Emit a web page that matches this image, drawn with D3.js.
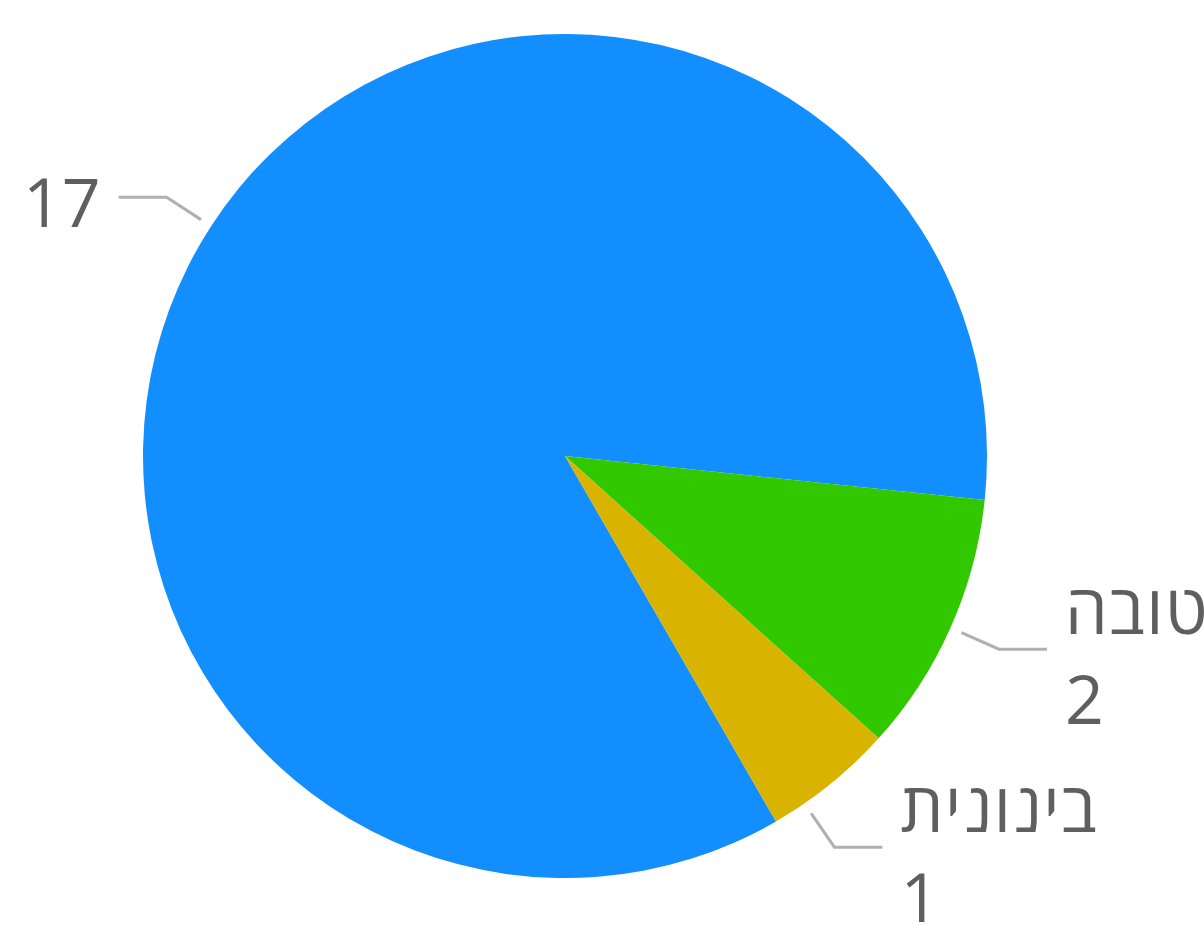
<!DOCTYPE html>
<html>
<head>
<meta charset="utf-8">
<script src="https://cdn.jsdelivr.net/npm/d3@7"></script>
<style>
  html, body { margin: 0; padding: 0; background: #fff; overflow: hidden; }
</style>
</head>
<body>
<div id="chart"></div>
<script>
// Data
var categories = ['', 'טובה', 'בינונית'];
var values     = [17, 2, 1];
var colors     = ['#138eff', '#31c800', '#d8b300'];

// The SVG Element
var chart_width  = 1204;
var chart_height = 925;
var cx = 565, cy = 456;
var radius = 422;

var svg = d3.select('#chart')
    .append('svg')
    .attr('width', chart_width)
    .attr('height', chart_height);

var data = categories.map(function(c, i){
    return { name: c, value: values[i], color: colors[i] };
});

var pie = d3.pie()
    .sort(null)
    .value(function(d){ return d.value; })
    .startAngle(Math.PI * 5 / 6)
    .endAngle(Math.PI * 5 / 6 + 2 * Math.PI);

var arc = d3.arc().innerRadius(0).outerRadius(radius);

var g = svg.append('g').attr('transform', 'translate(' + cx + ',' + cy + ')');

var arcs = pie(data);

g.selectAll('path')
    .data(arcs)
    .enter()
    .append('path')
    .attr('d', arc)
    .attr('fill', function(d){ return d.data.color; });

// label layout: elbow on a bigger circle, push labels apart on each side
var line_start = 434, line_elbow = 475, line_len = 48, text_gap = 18, min_gap = 198;

var labels = arcs.map(function(d){
    var a = (d.startAngle + d.endAngle) / 2;
    return {
        d: d,
        side: Math.sin(a) >= 0 ? 1 : -1,
        y: -Math.cos(a) * line_elbow
    };
});

[1, -1].forEach(function(side){
    var list = labels.filter(function(l){ return l.side === side; })
        .sort(function(a, b){ return a.y - b.y; });
    for (var i = 1; i < list.length; i++) {
        if (list[i].y - list[i - 1].y < min_gap) {
            list[i].y = list[i - 1].y + min_gap;
        }
    }
});

labels.forEach(function(l){
    var yy = Math.max(-line_elbow, Math.min(line_elbow, l.y));
    var xx = l.side * Math.sqrt(line_elbow * line_elbow - yy * yy);
    var sx = xx / line_elbow * line_start, sy = yy / line_elbow * line_start;
    var ex = xx + l.side * line_len;

    g.append('polyline')
        .attr('points', [[sx, sy], [xx, yy], [ex, yy]].map(function(p){ return p.join(','); }).join(' '))
        .attr('fill', 'none')
        .attr('stroke', '#b0b0b0')
        .attr('stroke-width', 3);

    var lines = l.d.data.name ? [l.d.data.name, String(l.d.data.value)] : [String(l.d.data.value)];
    lines.forEach(function(t, i){
        g.append('text')
            .attr('x', ex + l.side * text_gap)
            .attr('y', yy + 30 + (i - (lines.length - 1) / 2) * 90)
            .attr('text-anchor', l.side > 0 ? 'start' : 'end')
            .attr('direction', 'ltr')
            .attr('font-family', '"Open Sans", "DejaVu Sans", sans-serif')
            .attr('font-size', 68)
            .attr('letter-spacing', /\d/.test(t) ? 0 : 1.5)
            .attr('fill', '#5f5f5f')
            .text(t);
    });
});
</script>
</body>
</html>
